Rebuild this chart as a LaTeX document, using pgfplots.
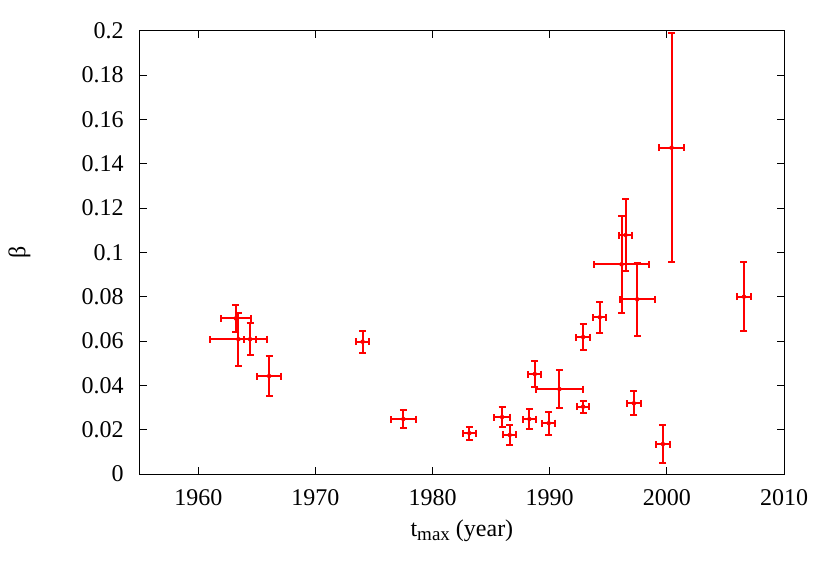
\documentclass[border=0pt]{standalone}
\usepackage{fontspec}
\setmainfont{Liberation Serif}
\usepackage{pgfplots}
\pgfplotsset{compat=1.18}
\usepackage{pgfplotstable}

% x  y  ex  ey  (t_max, beta, errors)
\pgfplotstableread{
x        y       ex     ey
1963.20  0.0702  1.31   0.0061
1963.42  0.0608  2.42   0.0120
1964.42  0.0608  0.54   0.0072
1966.04  0.0442  1.03   0.0090
1974.02  0.0597  0.57   0.0049
1977.50  0.0248  1.05   0.0041
1983.14  0.0184  0.57   0.0030
1985.93  0.0257  0.71   0.0045
1986.58  0.0176  0.57   0.0045
1988.26  0.0248  0.57   0.0044
1988.72  0.0451  0.57   0.0060
1989.91  0.0229  0.57   0.0051
1990.83  0.0383  1.97   0.0087
1992.85  0.0304  0.54   0.0027
1992.85  0.0618  0.57   0.0060
1994.27  0.0707  0.57   0.0071
1996.13  0.0946  2.32   0.0219
1996.47  0.1078  0.54   0.0163
1997.18  0.0319  0.57   0.0054
1997.47  0.0788  1.48   0.0165
1999.66  0.0135  0.58   0.0084
2000.40  0.1472  1.04   0.0516
2006.58  0.0800  0.57   0.0155
}\betadata

\begin{document}
\fontsize{24bp}{28bp}\selectfont
\begin{tikzpicture}
\begin{axis}[
  width=644.2bp,
  height=443.3bp,
  scale only axis,
  xmin=1955, xmax=2010,
  ymin=0, ymax=0.2,
  xtick={1960,1970,...,2010},
  ytick={0,0.02,...,0.2},
  scaled y ticks=false,
  xticklabel style={/pgf/number format/1000 sep={}, yshift=-7bp},
  yticklabel style={/pgf/number format/fixed, /pgf/number format/precision=2, xshift=-8bp},
  /pgf/number format/assume math mode=true,
  tick label style={font=\fontsize{24bp}{28bp}\selectfont},
  label style={font=\fontsize{24bp}{28bp}\selectfont},
  major tick length=7bp,
  tick align=inside,
  axis line style={line width=1bp},
  tick style={line width=1bp, black},
  xlabel={t\raisebox{-0.35ex}{\fontsize{19bp}{20bp}\selectfont max} (year)},
  ylabel={β},
  xlabel style={inner sep=0pt, yshift=-6bp},
  ylabel style={inner sep=0pt, yshift=43bp},
  clip=false,
]
\addplot[
  red, only marks, mark=none,
  error bars/.cd,
    x dir=both, x explicit,
    y dir=both, y explicit,
    error bar style={line width=2bp, red},
    error mark options={rotate=90, mark size=3.5bp, line width=2bp, red},
] table[x=x, y=y, x error=ex, y error=ey] {\betadata};
\end{axis}
\path[use as bounding box]
  ([shift={(-139.8bp,-107bp)}]current axis.south west)
  rectangle ([shift={(46bp,30.7bp)}]current axis.north east);
\end{tikzpicture}
\end{document}
